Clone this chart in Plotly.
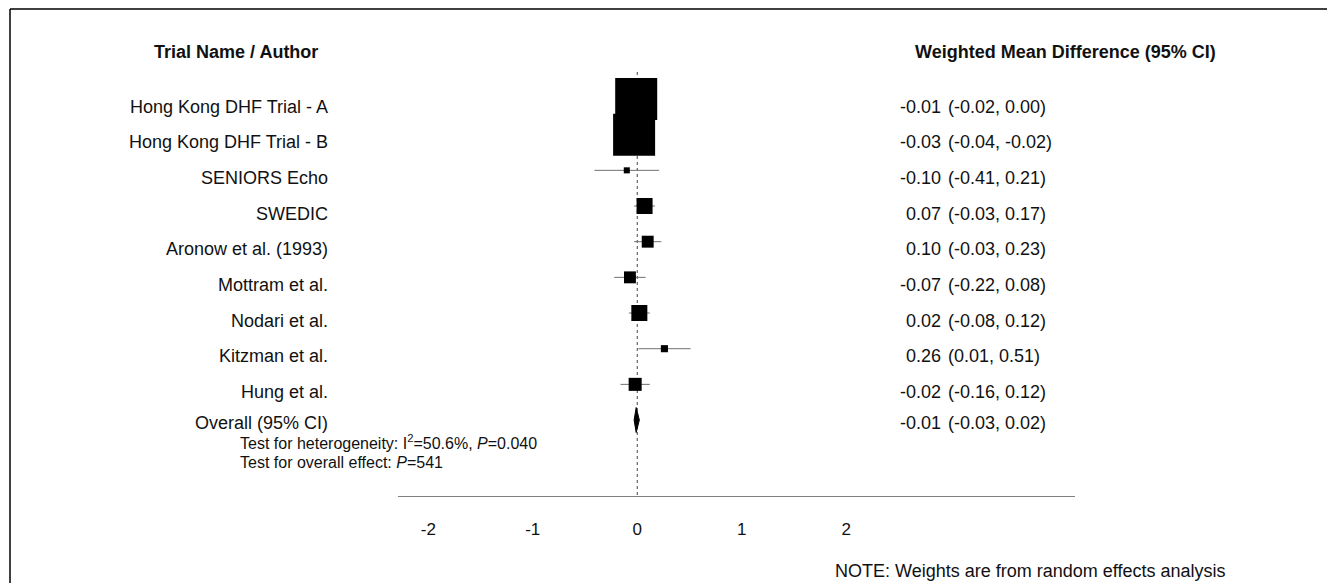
import plotly.graph_objects as go

W, H = 1327, 583

# ---------------- data ----------------
names = ["Hong Kong DHF Trial - A", "Hong Kong DHF Trial - B", "SENIORS Echo", "SWEDIC",
         "Aronow et al. (1993)", "Mottram et al.", "Nodari et al.", "Kitzman et al.", "Hung et al."]
wmd = [-0.01, -0.03, -0.10, 0.07, 0.10, -0.07, 0.02, 0.26, -0.02]
ci_low = [-0.02, -0.04, -0.41, -0.03, -0.03, -0.22, -0.08, 0.01, -0.16]
ci_high = [0.00, -0.02, 0.21, 0.17, 0.23, 0.08, 0.12, 0.51, 0.12]
weights = [38.5, 38.5, 0.8, 5.6, 3.1, 3.1, 5.6, 1.1, 3.7]  # % (random effects)

overall_label = "Overall (95% CI)"
overall_wmd = -0.01
overall_low = -0.03
overall_high = 0.02

tick_vals = [-2, -1, 0, 1, 2]
tick_text = ["-2", "-1", "0", "1", "2"]

header_left = "Trial Name / Author"
header_right = "Weighted Mean Difference (95% CI)"
het_text = "Test for heterogeneity: I<sup>2</sup>=50.6%, <i>P</i>=0.040"
eff_text = "Test for overall effect: <i>P</i>=541"
note_text = "NOTE: Weights are from random effects analysis"

# ---------------- layout geometry ----------------
FONT = "Arial, 'Liberation Sans', sans-serif"
x_px0, x_px1 = 398, 1075       # axis line extent
y_top_px, y_bot_px = 72, 496    # plot area vertical extent
row0_px, row_step = 99, 35.67
x_range = [-2.29, 4.19]
y_top_val = -(row0_px - y_top_px) / row_step
y_bot_val = y_top_val + (y_bot_px - y_top_px) / row_step

rows = list(range(len(names)))
overall_row = len(names)

fig = go.Figure()

# zero reference line (dotted)
fig.add_trace(go.Scatter(x=[0, 0], y=[y_top_val, y_bot_val], mode="lines",
                         line=dict(color="#444444", width=1, dash="dot"),
                         hoverinfo="skip", showlegend=False))

# CI lines + weighted boxes
sizes = [6.77 * (w ** 0.5) for w in weights]
fig.add_trace(go.Scatter(
    x=wmd, y=rows, mode="markers",
    marker=dict(symbol="square", size=sizes, color="black", opacity=1, line=dict(width=0)),
    error_x=dict(type="data", symmetric=False,
                 array=[h - m for h, m in zip(ci_high, wmd)],
                 arrayminus=[m - l for m, l in zip(wmd, ci_low)],
                 color="#707070", thickness=1, width=0),
    showlegend=False, hoverinfo="skip"))

# overall diamond
dh = 12.5 / row_step
fig.add_trace(go.Scatter(
    x=[overall_low, overall_wmd, overall_high, overall_wmd, overall_low],
    y=[overall_row, overall_row - dh, overall_row, overall_row + dh, overall_row],
    mode="lines", fill="toself", fillcolor="black",
    line=dict(color="black", width=1), showlegend=False, hoverinfo="skip"))

ann = []
label_font = dict(family=FONT, size=18, color="#111111")
all_names = names + [overall_label]
all_est = wmd + [overall_wmd]
all_lo = ci_low + [overall_low]
all_hi = ci_high + [overall_high]
for i, (nm, e, l, h) in enumerate(zip(all_names, all_est, all_lo, all_hi)):
    ys = -7.5 if i < len(names) else -3
    ann.append(dict(x=330 / W, xref="paper", y=i, yref="y", yshift=ys,
                    text=nm, showarrow=False, xanchor="right", yanchor="middle",
                    font=label_font))
    ann.append(dict(x=943 / W, xref="paper", y=i, yref="y", yshift=ys,
                    text=f"{e:.2f}", showarrow=False, xanchor="right", yanchor="middle",
                    font=label_font))
    ann.append(dict(x=946 / W, xref="paper", y=i, yref="y", yshift=ys,
                    text=f"({l:.2f}, {h:.2f})", showarrow=False, xanchor="left", yanchor="middle",
                    font=label_font))

# headers
hdr_font = dict(family=FONT, size=18, color="#111111")
ann.append(dict(x=152 / W, xref="paper", y=0, yref="y", yshift=47,
                text=f"<b>{header_left}</b>", showarrow=False, xanchor="left",
                yanchor="middle", font=hdr_font))
ann.append(dict(x=1218 / W, xref="paper", y=0, yref="y", yshift=47,
                text=f"<b>{header_right}</b>", showarrow=False, xanchor="right",
                yanchor="middle", font=hdr_font))

# heterogeneity tests
test_font = dict(family=FONT, size=16, color="#111111")
ann.append(dict(x=238 / W, xref="paper", y=overall_row, yref="y", yshift=-22,
                text=het_text, showarrow=False, xanchor="left", yanchor="middle", font=test_font))
ann.append(dict(x=238 / W, xref="paper", y=overall_row, yref="y", yshift=-42,
                text=eff_text, showarrow=False, xanchor="left", yanchor="middle", font=test_font))

# note
ann.append(dict(x=1227 / W, xref="paper", y=(H - 571) / H, yref="paper",
                text=note_text, showarrow=False, xanchor="right", yanchor="middle",
                font=dict(family=FONT, size=18, color="#111111")))

shapes = [
    dict(type="line", xref="paper", yref="paper", x0=10 / W, x1=1.0, y0=1 - 9 / H, y1=1 - 9 / H,
         line=dict(color="black", width=1.5)),
    dict(type="line", xref="paper", yref="paper", x0=10 / W, x1=10 / W, y0=1 - 9 / H, y1=0,
         line=dict(color="black", width=1.5)),
]

fig.update_layout(
    width=W, height=H, autosize=False,
    margin=dict(l=0, r=0, t=0, b=0, pad=0),
    paper_bgcolor="white", plot_bgcolor="white",
    annotations=ann, shapes=shapes,
    xaxis=dict(domain=[x_px0 / W, x_px1 / W], range=x_range, showgrid=False, zeroline=False,
               showline=True, linecolor="#808080", linewidth=1,
               tickmode="array", tickvals=tick_vals, ticktext=tick_text, ticks="",
               ticklabelstandoff=18,
               tickfont=dict(family=FONT, size=17, color="#111111")),
    yaxis=dict(domain=[1 - y_bot_px / H, 1 - y_top_px / H], range=[y_bot_val, y_top_val],
               showgrid=False, zeroline=False, showline=False, showticklabels=False, ticks=""),
)

fig.write_html("out.html", config={"displayModeBar": False},
               post_script="document.body.style.margin='0';document.body.style.overflow='hidden';")
